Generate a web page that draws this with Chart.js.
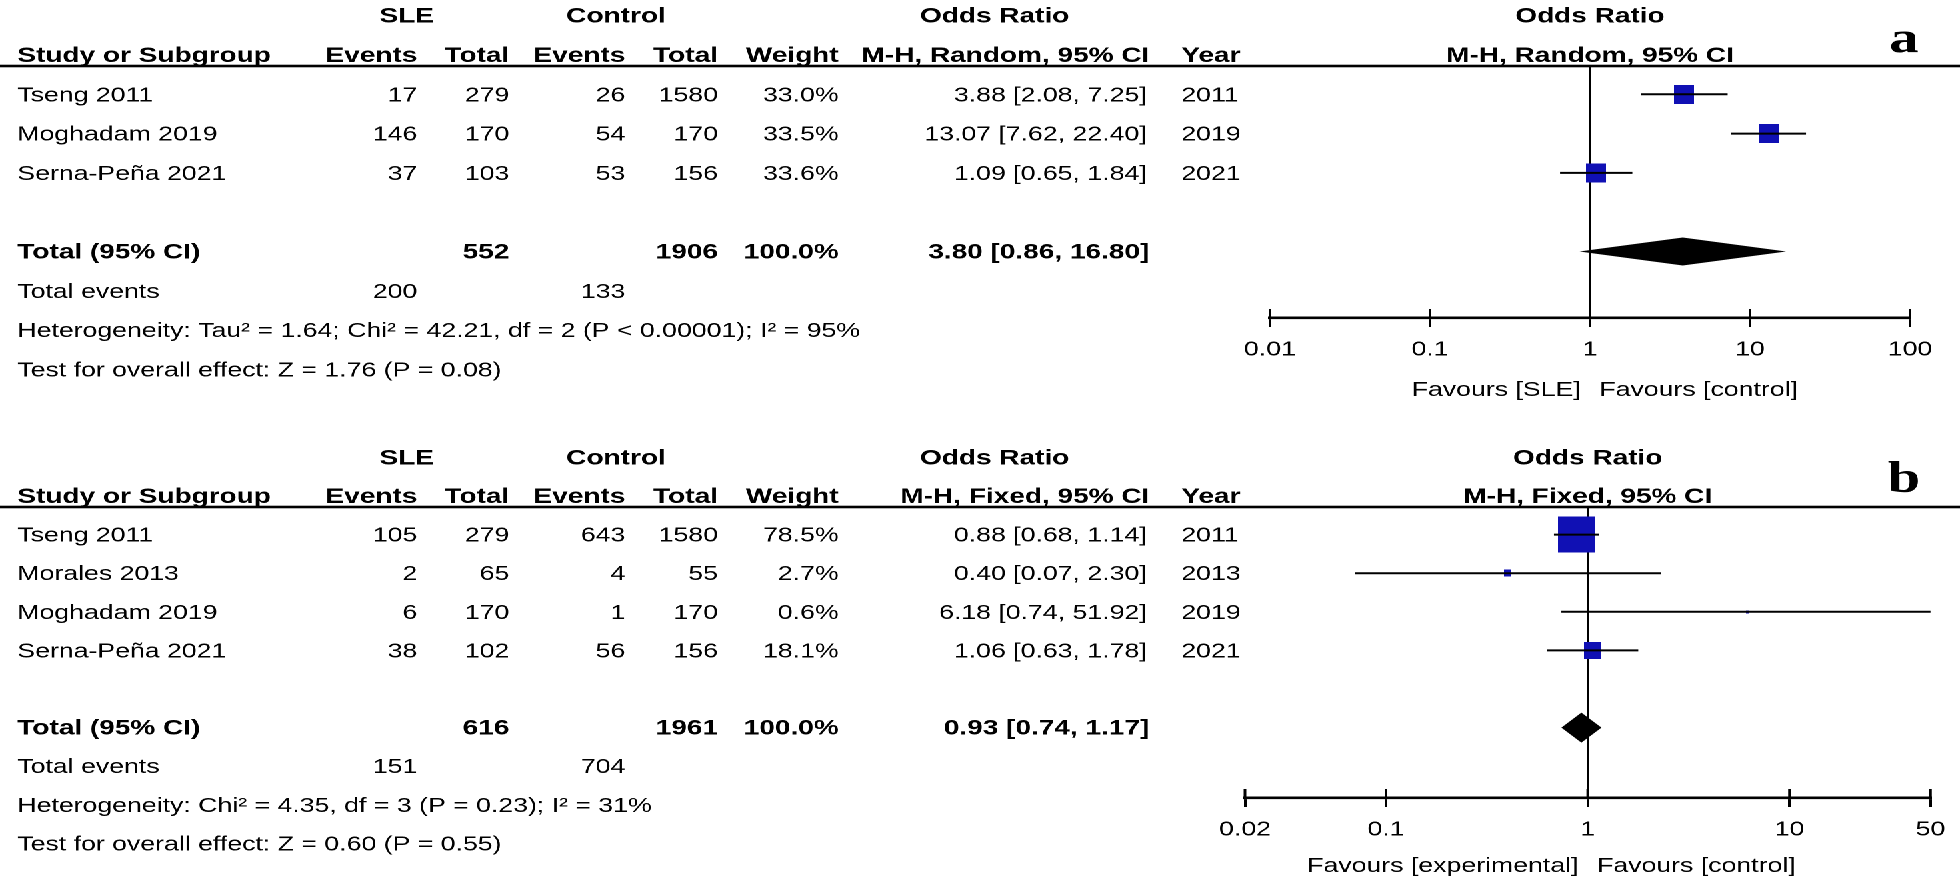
<!DOCTYPE html>
<html>
<head>
<meta charset="utf-8">
<script src="https://cdn.jsdelivr.net/npm/chart.js@4.4.1/dist/chart.umd.min.js"></script>
<style>
  html, body { margin: 0; padding: 0; background: #fff; overflow: hidden; }
  /* the source figure is stretched sideways, so the whole drawing is too */
  #wrap { width: 1470px; height: 878px; transform: scaleX(1.33333); transform-origin: 0 0; }
  canvas { display: block; }
</style>
</head>
<body>
<div id="wrap">
  <canvas id="panelA" width="1470" height="440"></canvas>
  <canvas id="panelB" width="1470" height="438"></canvas>
</div>
<script>
// ---------- panel a (random effects)
const studiesA = ['Tseng 2011', 'Moghadam 2019', 'Serna-Peña 2021'];
const sleEventsA = [17, 146, 37];
const sleTotalA = [279, 170, 103];
const ctrlEventsA = [26, 54, 53];
const ctrlTotalA = [1580, 170, 156];
const weightA = [33.0, 33.5, 33.6];
const orA = [3.88, 13.07, 1.09];
const loA = [2.08, 7.62, 0.65];
const hiA = [7.25, 22.40, 1.84];
const yearA = [2011, 2019, 2021];
const pooledA = [3.80, 0.86, 16.80];        // OR, lower, upper
const totalsA = [552, 1906, 100.0];         // SLE total, control total, weight
const totalEventsA = [200, 133];
const ticksA = [0.01, 0.1, 1, 10, 100];
const tickLabelsA = ['0.01', '0.1', '1', '10', '100'];
const hetA = 'Heterogeneity: Tau² = 1.64; Chi² = 42.21, df = 2 (P < 0.00001); I² = 95%';
const testA = 'Test for overall effect: Z = 1.76 (P = 0.08)';

// ---------- panel b (fixed effect)
const studiesB = ['Tseng 2011', 'Morales 2013', 'Moghadam 2019', 'Serna-Peña 2021'];
const sleEventsB = [105, 2, 6, 38];
const sleTotalB = [279, 65, 170, 102];
const ctrlEventsB = [643, 4, 1, 56];
const ctrlTotalB = [1580, 55, 170, 156];
const weightB = [78.5, 2.7, 0.6, 18.1];
const orB = [0.88, 0.40, 6.18, 1.06];
const loB = [0.68, 0.07, 0.74, 0.63];
const hiB = [1.14, 2.30, 51.92, 1.78];
const yearB = [2011, 2013, 2019, 2021];
const pooledB = [0.93, 0.74, 1.17];
const totalsB = [616, 1961, 100.0];
const totalEventsB = [151, 704];
const ticksB = [0.02, 0.1, 1, 10, 50];
const tickLabelsB = ['0.02', '0.1', '1', '10', '50'];
const hetB = 'Heterogeneity: Chi² = 4.35, df = 3 (P = 0.23); I² = 31%';
const testB = 'Test for overall effect: Z = 0.60 (P = 0.55)';

const FONT = '"Liberation Sans", Arial, sans-serif';
const BLUE = '#1010b4';
const W = 1470;
// table columns (right edges unless noted)
const COL = { name: 13, sleHead: 305, sleEv: 313, sleTot: 382, ctlHead: 462, ctlEv: 469,
              ctlTot: 538.5, weight: 629, orHead: 746, or: 860, year: 886 };

Chart.defaults.font.family = FONT;
Chart.defaults.font.size = 20;
Chart.defaults.color = '#000';

const fmtOR = (v, lo, hi) => `${v.toFixed(2)} [${lo.toFixed(2)}, ${hi.toFixed(2)}]`;

// weight box used as point style (boxes are a bit taller than wide in the source)
function box(w, h) {
  const c = document.createElement('canvas');
  c.width = Math.max(2, Math.round(w));
  c.height = Math.max(2, Math.round(h));
  const g = c.getContext('2d');
  g.fillStyle = BLUE;
  g.fillRect(0, 0, c.width, c.height);
  return c;
}

function forestPlugin(d, lay) {
  const n = d.studies.length;
  function txt(ctx, s, x, y, align, bold) {
    ctx.font = (bold ? 'bold 21px ' : '20px ') + FONT;
    ctx.textAlign = align;
    ctx.fillText(String(s), x, y);
  }
  return {
    id: 'forest',
    beforeDatasetsDraw(chart) {
      const { ctx, chartArea: ca, scales: { x } } = chart;
      const x1 = x.getPixelForValue(1);
      ctx.save();
      ctx.strokeStyle = '#000';
      ctx.lineWidth = 1.6;
      ctx.beginPath();
      ctx.moveTo(x1, ca.top);
      ctx.lineTo(x1, ca.bottom);
      ctx.stroke();
      ctx.restore();
    },
    afterDatasetsDraw(chart) {
      const { ctx, scales: { x, y } } = chart;
      const yc = y.getPixelForValue(n + 2);
      const xl = x.getPixelForValue(d.pooled[1]);
      const xm = x.getPixelForValue(d.pooled[0]);
      const xr = x.getPixelForValue(d.pooled[2]);
      ctx.save();
      ctx.fillStyle = '#000';
      ctx.beginPath();
      ctx.moveTo(xl, yc);
      ctx.lineTo(xm, yc - lay.dia);
      ctx.lineTo(xr, yc);
      ctx.lineTo(xm, yc + lay.dia);
      ctx.closePath();
      ctx.fill();
      ctx.restore();
    },
    afterDraw(chart) {
      const { ctx, chartArea: ca, scales: { x, y } } = chart;
      const base = i => y.getPixelForValue(i) + 7;
      const x1 = x.getPixelForValue(1);
      ctx.save();
      ctx.fillStyle = '#000';
      ctx.textBaseline = 'alphabetic';

      // header rows
      txt(ctx, 'SLE', COL.sleHead, base(-1), 'center', true);
      txt(ctx, 'Control', COL.ctlHead, base(-1), 'center', true);
      txt(ctx, 'Odds Ratio', COL.orHead, base(-1), 'center', true);
      txt(ctx, 'Odds Ratio', x1, base(-1), 'center', true);
      txt(ctx, 'Study or Subgroup', COL.name, base(0), 'left', true);
      txt(ctx, 'Events', COL.sleEv, base(0), 'right', true);
      txt(ctx, 'Total', COL.sleTot, base(0), 'right', true);
      txt(ctx, 'Events', COL.ctlEv, base(0), 'right', true);
      txt(ctx, 'Total', COL.ctlTot, base(0), 'right', true);
      txt(ctx, 'Weight', COL.weight, base(0), 'right', true);
      txt(ctx, d.method, COL.or + 2, base(0), 'right', true);
      txt(ctx, 'Year', COL.year, base(0), 'left', true);
      txt(ctx, d.method, x1, base(0), 'center', true);
      ctx.fillRect(0, ca.top - 1.3, W, 2.6);

      // studies
      d.studies.forEach((s, i) => {
        const b = base(i + 1);
        txt(ctx, s, COL.name, b, 'left');
        txt(ctx, d.sleEv[i], COL.sleEv, b, 'right');
        txt(ctx, d.sleTot[i], COL.sleTot, b, 'right');
        txt(ctx, d.ctlEv[i], COL.ctlEv, b, 'right');
        txt(ctx, d.ctlTot[i], COL.ctlTot, b, 'right');
        txt(ctx, d.weight[i].toFixed(1) + '%', COL.weight, b, 'right');
        txt(ctx, fmtOR(d.or[i], d.lo[i], d.hi[i]), COL.or, b, 'right');
        txt(ctx, d.year[i], COL.year, b, 'left');
      });

      // totals
      let b = base(n + 2);
      txt(ctx, 'Total (95% CI)', COL.name, b, 'left', true);
      txt(ctx, d.totals[0], COL.sleTot, b, 'right', true);
      txt(ctx, d.totals[1], COL.ctlTot, b, 'right', true);
      txt(ctx, d.totals[2].toFixed(1) + '%', COL.weight, b, 'right', true);
      txt(ctx, fmtOR(d.pooled[0], d.pooled[1], d.pooled[2]), COL.or + 2, b, 'right', true);
      b = base(n + 3);
      txt(ctx, 'Total events', COL.name, b, 'left');
      txt(ctx, d.totalEvents[0], COL.sleEv, b, 'right');
      txt(ctx, d.totalEvents[1], COL.ctlEv, b, 'right');
      txt(ctx, d.het, COL.name, base(n + 4), 'left');
      txt(ctx, d.test, COL.name, base(n + 5), 'left');

      // upper half of the axis ticks
      ctx.strokeStyle = '#000';
      ctx.lineWidth = 2;
      d.ticks.forEach(v => {
        const px = x.getPixelForValue(v);
        ctx.beginPath();
        ctx.moveTo(px, ca.bottom - 9);
        ctx.lineTo(px, ca.bottom);
        ctx.stroke();
      });

      // favours labels
      txt(ctx, d.favLeft, x1 - 7, lay.favY, 'right');
      txt(ctx, 'Favours [control]', x1 + 7, lay.favY, 'left');

      // panel letter
      ctx.font = 'bold 44px "Liberation Serif", "Times New Roman", serif';
      ctx.textAlign = 'center';
      ctx.fillText(lay.letter, 1428, 52);
      ctx.restore();
    }
  };
}

function forest(id, d, lay) {
  const canvas = document.getElementById(id);
  const H = canvas.height;
  const maxW = Math.max(...d.weight);
  const rows = d.studies.map((s, i) => i + 1);
  const datasets = d.studies.map((s, i) => ({
    data: [{ x: d.lo[i], y: rows[i] }, { x: d.hi[i], y: rows[i] }],
    showLine: true, borderColor: '#000', borderWidth: 2, pointRadius: 0
  }));
  datasets.push({
    data: d.or.map((v, i) => ({ x: v, y: rows[i] })),
    pointStyle: d.weight.map(w => box(lay.boxW * Math.sqrt(w / maxW), lay.boxH * Math.sqrt(w / maxW))),
    pointRadius: 5,
    borderWidth: 0
  });
  return new Chart(canvas, {
    type: 'scatter',
    data: { datasets },
    plugins: [forestPlugin(d, lay)],
    options: {
      responsive: false,
      animation: false,
      events: [],
      devicePixelRatio: 2,
      layout: { padding: { left: lay.left, right: W - lay.right, top: lay.top, bottom: H - lay.axis - 50 } },
      plugins: { legend: { display: false }, tooltip: { enabled: false } },
      scales: {
        x: {
          type: 'logarithmic',
          min: d.ticks[0],
          max: d.ticks[d.ticks.length - 1],
          afterBuildTicks: s => { s.ticks = d.ticks.map(v => ({ value: v })); },
          afterFit: s => { s.height = 50; },
          ticks: {
            callback: (v, i) => d.tickLabels[i],
            autoSkip: false, maxRotation: 0, minRotation: 0, padding: 11,
            color: '#000', font: { size: 20 }
          },
          grid: { drawOnChartArea: false, drawTicks: true, tickLength: 9, color: '#000', lineWidth: 2 },
          border: { display: true, color: '#000', width: 2.6 }
        },
        y: {
          type: 'linear', display: false, reverse: true,
          min: (lay.top - lay.c0) / lay.step,
          max: (lay.axis - lay.c0) / lay.step
        }
      }
    }
  });
}

forest('panelA', {
  studies: studiesA, sleEv: sleEventsA, sleTot: sleTotalA, ctlEv: ctrlEventsA, ctlTot: ctrlTotalA,
  weight: weightA, or: orA, lo: loA, hi: hiA, year: yearA, pooled: pooledA, totals: totalsA,
  totalEvents: totalEventsA, ticks: ticksA, tickLabels: tickLabelsA, het: hetA, test: testA,
  method: 'M-H, Random, 95% CI', favLeft: 'Favours [SLE]'
}, { left: 952.5, right: 1432.5, top: 66, axis: 318, c0: 55, step: 39.3,
     boxW: 15, boxH: 19, dia: 14, favY: 396, letter: 'a' });

forest('panelB', {
  studies: studiesB, sleEv: sleEventsB, sleTot: sleTotalB, ctlEv: ctrlEventsB, ctlTot: ctrlTotalB,
  weight: weightB, or: orB, lo: loB, hi: hiB, year: yearB, pooled: pooledB, totals: totalsB,
  totalEvents: totalEventsB, ticks: ticksB, tickLabels: tickLabelsB, het: hetB, test: testB,
  method: 'M-H, Fixed, 95% CI', favLeft: 'Favours [experimental]'
}, { left: 933.75, right: 1457.25, top: 67, axis: 358, c0: 56, step: 38.6,
     boxW: 28, boxH: 36, dia: 15, favY: 432, letter: 'b' });
</script>
</body>
</html>
